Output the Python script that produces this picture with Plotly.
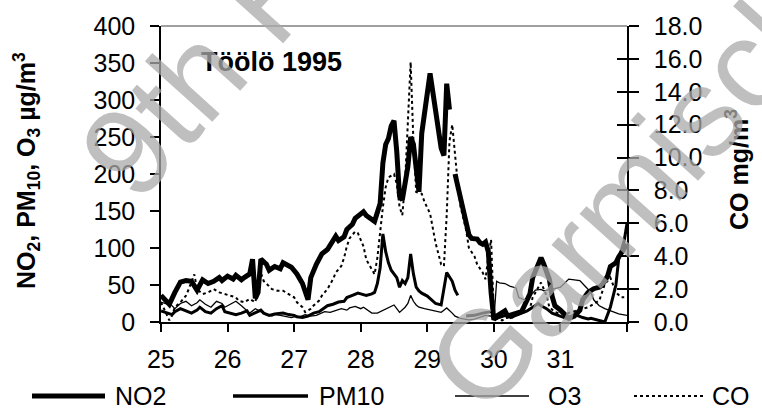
import plotly.graph_objects as go

# Hourly readings at Töölö, 25-31 (hours counted from 25th 00:00)
no2_pts = [(0,36),(2,28),(3,24),(5,40),(7,54),(9,56),(11,55),(13,43),(15,57),(17,52),(19,55),(21,60),(22,56),(24,62),(26,58),(27,63),(29,57),(30,60),(32,65),(33,85),(34,32),(35,40),(36,85),(38,78),(39,70),(41,75),(43,72),(44,80),(46,76),(47,74),(49,65),(51,52),(53,30),(54,60),(56,78),(58,92),(60,98),(61,104),(63,116),(64,110),(66,115),(67,125),(69,132),(70,140),(72,146),(73,149),(74,144),(76,138),(77,136),(79,160),(80,215),(81,240),(82,248),(83,265),(84,272),(85,230),(86,170),(87,165),(89,210),(90,250),(91,240),(93,176),(94,255),(97,336),(99,285),(101,235),(102,225),(103,322),(104,287),(105,None),(106,200),(108,165),(109,150),(110,128),(111,118),(112,113),(114,112),(115,107),(116,105),(117,108),(118,95),(119,40),(120,3),(121,8),(123,12),(124,15),(125,8),(127,10),(128,12),(130,14),(131,22),(133,38),(134,60),(136,80),(137,87),(138,78),(140,58),(141,35),(142,22),(144,16),(146,8),(147,5),(149,8),(151,16),(152,30),(154,40),(156,45),(158,47),(159,50),(161,62),(162,75),(164,80),(165,88),(167,98),(168,105)]

pm10_pts = [(0,15),(2,12),(4,10),(5,14),(7,18),(9,15),(11,12),(13,16),(14,20),(16,14),(18,12),(20,18),(22,22),(23,14),(25,12),(27,10),(29,12),(31,15),(32,9),(34,12),(36,16),(37,12),(39,9),(41,11),(44,12),(46,10),(48,9),(49,7),(51,6),(53,8),(55,12),(57,14),(58,17),(60,22),(62,24),(64,27),(66,28),(67,33),(69,36),(71,39),(72,38),(74,36),(76,38),(77,40),(78,52),(79,73),(80,119),(81,95),(82,80),(83,70),(85,60),(86,47),(87,56),(88,52),(89,60),(90,92),(91,65),(92,47),(93,42),(94,39),(96,35),(97,32),(98,28),(99,25),(101,23),(102,47),(103,67),(105,55),(106,43),(107,36),(108,None),(110,8),(113,9),(116,12),(119,14),(120,None),(121,5),(123,8),(125,10),(126,6),(128,9),(130,12),(132,15),(134,20),(136,25),(137,22),(139,18),(141,12),(143,9),(145,6),(146,5),(148,7),(150,9),(152,6),(154,4),(155,5),(157,3),(159,2),(160,0),(162,20),(164,50),(165,85),(167,110),(168,133)]

o3_pts = [(0,27),(2,25),(4,22),(5,18),(7,25),(9,28),(11,22),(13,26),(14,30),(16,24),(18,20),(20,28),(22,25),(23,20),(25,24),(27,28),(29,22),(31,16),(32,12),(34,18),(36,14),(38,10),(40,8),(41,10),(43,9),(45,7),(47,6),(49,8),(50,7),(52,10),(54,8),(56,9),(58,12),(59,14),(61,13),(63,16),(65,18),(67,16),(68,19),(70,21),(72,18),(73,20),(75,15),(76,12),(78,12),(80,16),(82,20),(84,23),(85,18),(86,13),(88,20),(89,25),(90,36),(91,28),(92,23),(93,20),(95,18),(97,16),(99,14),(101,13),(102,16),(103,19),(105,12),(106,8),(108,5),(110,4),(111,3),(113,4),(115,6),(117,9),(119,8),(120,3),(121,55),(122,53),(124,52),(126,48),(128,46),(129,33),(131,30),(133,35),(135,43),(137,44),(138,42),(140,43),(142,45),(144,47),(146,54),(147,58),(149,57),(151,56),(153,48),(155,40),(156,30),(158,22),(160,18),(162,15),(164,13),(165,11),(168,9)]

co_pts = [(0,1.2),(1,0.8),(3,0.1),(4,0.4),(5,0.9),(7,1.2),(9,1.6),(10,2.0),(12,2.9),(13,2.0),(15,1.7),(17,1.8),(19,2.0),(21,1.8),(23,1.7),(25,1.6),(27,1.5),(28,1.3),(30,1.2),(32,1.4),(34,1.2),(35,2.0),(36,3.0),(37,2.5),(39,2.2),(40,2.0),(42,1.9),(44,1.9),(46,1.7),(48,1.5),(49,1.2),(51,0.9),(52,0.6),(54,0.8),(55,1.0),(57,1.3),(58,1.6),(60,2.0),(62,2.6),(63,3.0),(65,3.4),(66,3.9),(67,4.6),(68,5.1),(70,5.5),(71,5.4),(73,4.6),(74,3.8),(76,3.2),(77,2.9),(78,3.9),(79,5.5),(80,7.0),(81,8.2),(82,8.8),(84,9.0),(85,8.4),(86,7.0),(87,6.5),(88,8.5),(89,12.0),(90,15.8),(91,11.0),(92,7.9),(94,7.8),(95,7.3),(97,6.6),(98,5.6),(99,4.8),(101,3.5),(102,3.4),(103,6.5),(104,11.0),(105,12.0),(106,10.0),(107,8.4),(108,7.0),(110,5.6),(111,4.5),(113,4.0),(114,3.5),(116,3.0),(117,2.6),(118,4.0),(119,5.0),(120,0.5),(121,0.2),(123,0.1),(125,0.3),(126,0.2),(128,0.4),(131,0.6),(133,0.8),(134,1.5),(136,2.1),(137,2.4),(139,1.6),(140,0.9),(142,0.6),(144,0.5),(146,0.5),(148,0.6),(150,0.7),(152,0.8),(154,0.9),(156,1.1),(158,1.3),(159,1.8),(160,2.3),(162,2.7),(163,2.2),(164,1.8),(166,1.5),(167,1.5)]

day_ticks = [25, 26, 27, 28, 29, 30, 31, 32]
day_labels = ["25", "26", "27", "28", "29", "30", "31", " "]

FONT = "Arial, Liberation Sans, sans-serif"


def to_days(pts):
    hours, vals = zip(*pts)
    return [25 + h / 24 for h in hours], list(vals)


series = [
    ("NO2", no2_pts, "y", dict(color="black", width=5)),
    ("PM10", pm10_pts, "y", dict(color="black", width=3)),
    ("O3", o3_pts, "y", dict(color="black", width=1.3)),
    ("CO", co_pts, "y2", dict(color="black", width=2, dash="dot")),
]

fig = go.Figure()
for name, pts, yax, line in series:
    x, y = to_days(pts)
    fig.add_trace(go.Scatter(x=x, y=y, name=name, mode="lines", yaxis=yax,
                             line=line, connectgaps=False, showlegend=False))

axis_common = dict(showgrid=False, zeroline=False, showline=True,
                   linecolor="black", linewidth=1.5, tickcolor="black",
                   tickwidth=1.5, tickfont=dict(family=FONT, size=25, color="black"))

fig.update_layout(
    width=762, height=418,
    margin=dict(l=161, r=135, t=22, b=96),
    paper_bgcolor="white", plot_bgcolor="white",
    xaxis=dict(range=[25, 32], tickvals=day_ticks, ticktext=day_labels,
               ticks="outside", ticklen=8, ticklabelstandoff=6, **axis_common),
    yaxis=dict(range=[0, 400], dtick=50, ticks="outside", ticklen=9,
               ticklabelstandoff=10, **axis_common),
    yaxis2=dict(range=[0, 18], dtick=2, tickformat=".1f", overlaying="y",
                side="right", ticks="outside", ticklen=10,
                ticklabelstandoff=10, **axis_common),
    yaxis3=dict(range=[0, 18], dtick=2, overlaying="y", side="right",
                ticks="inside", ticklen=10, showticklabels=False,
                showgrid=False, zeroline=False, showline=False,
                tickcolor="black", tickwidth=1.5),
)
# empty trace so the inner tick marks of the right axis get drawn
fig.add_trace(go.Scatter(x=[None], y=[None], yaxis="y3", showlegend=False))

# thin grey frame line along the top of the plot area
fig.add_shape(type="line", xref="paper", yref="paper", x0=0, x1=1, y0=1, y1=1,
              line=dict(color="#808080", width=1.5))

annotations = [
    dict(text="<b>Töölö 1995</b>", x=0.238, y=0.877, font=dict(size=27)),
    dict(text="<b>NO<sub>2</sub>, PM<sub>10</sub>, O<sub>3</sub> µg/m<sup>3</sup></b>",
         x=-0.288, y=0.513, textangle=-90, font=dict(size=25)),
    dict(text="<b>CO mg/m<sup>3</sup></b>", x=1.236, y=0.517, textangle=-90,
         font=dict(size=25)),
]
for a in annotations:
    a.update(xref="paper", yref="paper", showarrow=False,
             xanchor="center", yanchor="middle")
    a["font"].update(family=FONT, color="black")
    fig.add_annotation(**a)

# legend row drawn beneath the axis
legend_items = [
    ("NO2", dict(color="black", width=5), 32, 105, 113),
    ("PM10", dict(color="black", width=3.5), 233, 308, 317),
    ("O3", dict(color="black", width=1.5), 455, 529, 546),
    ("CO", dict(color="black", width=2, dash="dot"), 634, 705, 710),
]
pw, ph = 762 - 161 - 135, 418 - 22 - 96
ly = (322 - 397) / ph
for name, line, x0, x1, tx in legend_items:
    fig.add_shape(type="line", xref="paper", yref="paper",
                  x0=(x0 - 161) / pw, x1=(x1 - 161) / pw, y0=ly, y1=ly, line=line)
    fig.add_annotation(text=name, xref="paper", yref="paper", x=(tx - 161) / pw,
                       y=ly, xanchor="left", yanchor="middle", showarrow=False,
                       font=dict(family=FONT, size=25, color="black"))

# conference watermark over the figure
for text, cx, cy in [("9th Harmo", 300, -45), ("Garmisch", 630, 190)]:
    fig.add_annotation(text=text, xref="paper", yref="paper",
                       x=(cx - 161) / pw, y=(322 - cy) / ph, textangle=-48,
                       xanchor="center", yanchor="middle", showarrow=False,
                       font=dict(family=FONT, size=125, color="rgba(170,170,170,0.75)"))

fig.write_html("out.html")
